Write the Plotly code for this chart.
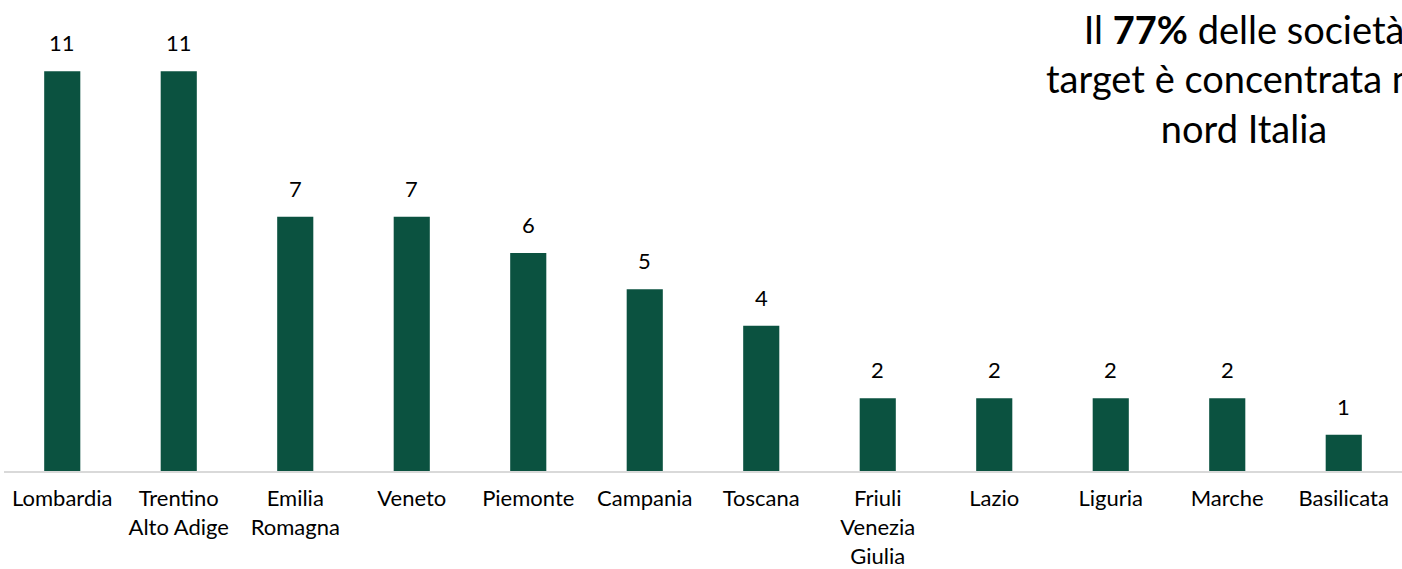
import plotly.graph_objects as go

regions = ["Lombardia", "Trentino<br>Alto Adige", "Emilia<br>Romagna", "Veneto", "Piemonte",
           "Campania", "Toscana", "Friuli<br>Venezia<br>Giulia", "Lazio", "Liguria", "Marche", "Basilicata"]
counts = [11, 11, 7, 7, 6, 5, 4, 2, 2, 2, 2, 1]

FONT = "Lato"

fig = go.Figure(go.Bar(
    x=regions, y=counts,
    marker=dict(color="#0B5240", line=dict(width=0)),
    cliponaxis=False,
))

value_labels = [dict(x=r, y=v, text=str(v), xref="x", yref="y", showarrow=False,
                     yanchor="bottom", yshift=13,
                     font=dict(family=FONT, size=22, color="#000000"))
                for r, v in zip(regions, counts)]

fig.update_layout(
    width=1402, height=569,
    margin=dict(l=4, r=0, t=35, b=98),
    paper_bgcolor="white", plot_bgcolor="white",
    bargap=0.69,
    showlegend=False,
    xaxis=dict(showline=True, linecolor="#D9D9D9", linewidth=2, ticks="",
               ticklabelstandoff=7, automargin=False,
               tickfont=dict(family=FONT, size=22, color="#000000"), showgrid=False),
    yaxis=dict(range=[0, 12], visible=False, showgrid=False, automargin=False),
    annotations=value_labels + [dict(
        xref="paper", yref="paper", x=0.887, y=0.901, xanchor="center", yanchor="middle",
        text="Il <b>77%</b> delle società<br>target è concentrata nel<br>nord Italia",
        showarrow=False, align="center",
        font=dict(family=FONT, size=38, color="#000000"),
    )],
)

fig.write_html("out.html", config={"displayModeBar": False},
               post_script="document.body.style.margin='0';")
